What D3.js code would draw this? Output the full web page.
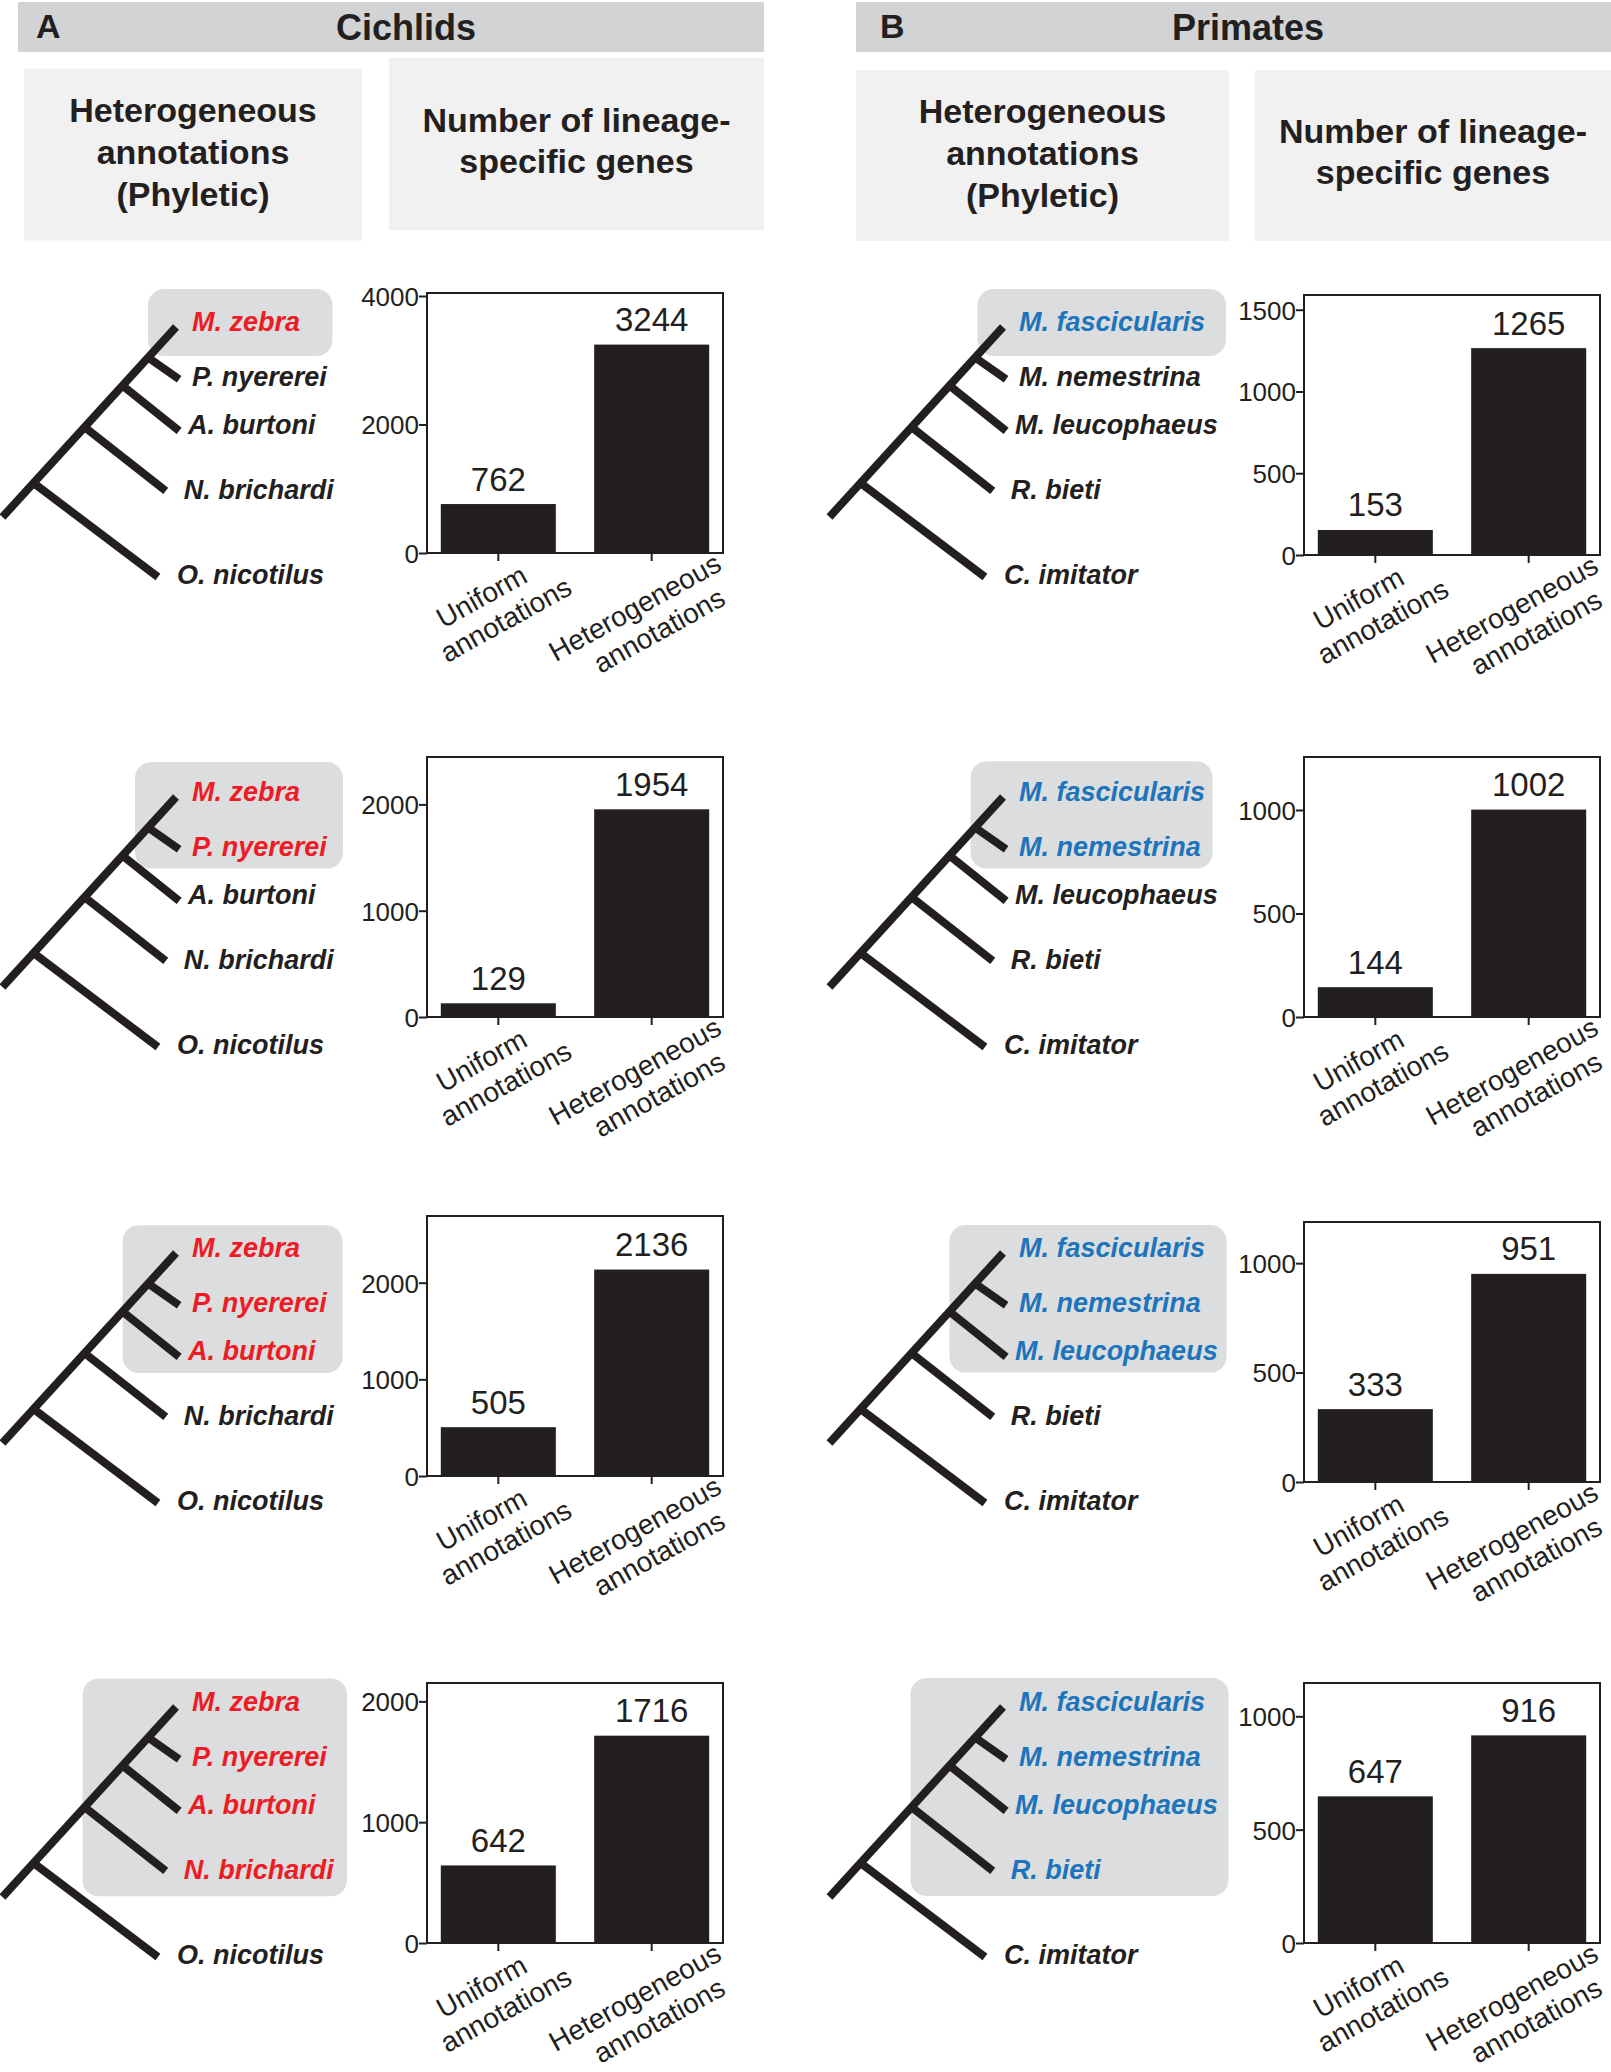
<!DOCTYPE html>
<html><head><meta charset="utf-8">
<script src="https://cdn.jsdelivr.net/npm/d3@7"></script>
<style>
body{margin:0;background:#fff;}
svg{display:block;font-family:"Liberation Sans",Arial,Helvetica,sans-serif;}
</style></head><body>
<svg id="c" width="1611" height="2072"></svg>
<script>
// ---------------- data ----------------
const panelLetters = ["A", "B"];
const panelTitles = ["Cichlids", "Primates"];
const subheaderLeft = ["Heterogeneous", "annotations", "(Phyletic)"];
const subheaderRight = ["Number of lineage-", "specific genes"];
const categories = ["Uniform annotations", "Heterogeneous annotations"];
const categoryLines = [["Uniform", "annotations"], ["Heterogeneous", "annotations"]];

const cichlidSpecies = ["M. zebra", "P. nyererei", "A. burtoni", "N. brichardi", "O. nicotilus"];
const primateSpecies = ["M. fascicularis", "M. nemestrina", "M. leucophaeus", "R. bieti", "C. imitator"];
const highlightedCount = [1, 2, 3, 4];

const cichlidUniform = [762, 129, 505, 642];
const cichlidHetero = [3244, 1954, 2136, 1716];
const primateUniform = [153, 144, 333, 647];
const primateHetero = [1265, 1002, 951, 916];

const cichlidYMax = [4047, 2446, 2690, 2152];
const primateYMax = [1590, 1256, 1188, 1147];
const cichlidTicks = [[0, 2000, 4000], [0, 1000, 2000], [0, 1000, 2000], [0, 1000, 2000]];
const primateTicks = [[0, 500, 1000, 1500], [0, 500, 1000], [0, 500, 1000], [0, 500, 1000]];

// ladder-tree shape: where each leaf joins the backbone (0 = root, 1 = top),
// and where each leaf tip lies (depth, height below the top tip, in backbone units)
const attachDepth = [1.0, 0.839, 0.692, 0.473, 0.179];
const tipDepth = [1.0, 1.018, 1.018, 0.941, 0.896];
const tipHeight = [0, 0.275, 0.547, 0.863, 1.316];

// ---------------- layout / style ----------------
const INK = "#231f20";
const RED = "#ed1c24", BLUE = "#1c75bc";
const svg = d3.select("#c");
const labelDx = [16, 13, 9, 18, 19];
const labelDy = [4, 7, 3, 8, 7];

const panels = [
  {
    letter: panelLetters[0], title: panelTitles[0], species: cichlidSpecies,
    uni: cichlidUniform, het: cichlidHetero, ymax: cichlidYMax, ticks: cichlidTicks,
    hiColor: RED,
    bar: {x0: 18, w: 746, letterX: 36, titleX: 406},
    subL: {x: 24, y: 68.5, w: 338, h: 172, lines: [122, 164, 206]},
    subR: {x: 389, y: 58, w: 375, h: 172, lines: [132, 173]},
    rootX: 2.5,
    frameX: [427, 723], frameTop: [293, 757, 1216, 1683],
    boxes: [[145.5, -38, 330, 29], [132.5, -35, 340.5, 71.6], [120, -27.7, 340, 120], [80, -28.4, 344.5, 189.3]]
  },
  {
    letter: panelLetters[1], title: panelTitles[1], species: primateSpecies,
    uni: primateUniform, het: primateHetero, ymax: primateYMax, ticks: primateTicks,
    hiColor: BLUE,
    bar: {x0: 856, w: 755, letterX: 880, titleX: 1248},
    subL: {x: 856, y: 70, w: 373, h: 171, lines: [123, 165, 207]},
    subR: {x: 1255, y: 70, w: 356, h: 171, lines: [143, 184]},
    rootX: 829.5,
    frameX: [1304, 1600], frameTop: [295, 757, 1222, 1683],
    boxes: [[148, -38, 396.5, 29], [141, -35.7, 383, 71.6], [120, -28, 397, 119.6], [81, -29, 399, 189]]
  }
];
const treeTipY = [327, 797, 1253, 1707];
const FRAME_H = 260;

panels.forEach(p => {
  // header bar
  svg.append("rect").attr("x", p.bar.x0).attr("y", 2).attr("width", p.bar.w).attr("height", 50)
    .attr("fill", "#d1d3d4");
  svg.append("text").attr("x", p.bar.letterX).attr("y", 38).text(p.letter)
    .attr("font-size", 34).attr("font-weight", "bold").attr("fill", INK);
  svg.append("text").attr("x", p.bar.titleX).attr("y", 40).text(p.title)
    .attr("text-anchor", "middle").attr("font-size", 36).attr("font-weight", "bold").attr("fill", INK);

  // subheaders
  [[p.subL, subheaderLeft], [p.subR, subheaderRight]].forEach(([b, lines]) => {
    svg.append("rect").attr("x", b.x).attr("y", b.y).attr("width", b.w).attr("height", b.h)
      .attr("fill", "#f1f1f2");
    lines.forEach((t, i) => {
      svg.append("text").attr("x", b.x + b.w / 2).attr("y", b.lines[i]).text(t)
        .attr("text-anchor", "middle").attr("font-size", 34).attr("font-weight", "bold").attr("fill", INK);
    });
  });

  highlightedCount.forEach((nHi, r) => {
    // ---------- tree ----------
    const g = svg.append("g");
    const tipY = treeTipY[r];
    const tx = d3.scaleLinear().domain([0, 1]).range([p.rootX, p.rootX + 173.5]);
    const ty = d3.scaleLinear().domain([0, 1]).range([tipY, tipY + 190]);
    const bx = p.boxes[r];
    g.append("rect")
      .attr("x", p.rootX + bx[0]).attr("y", tipY + bx[1])
      .attr("width", bx[2] - bx[0]).attr("height", bx[3] - bx[1])
      .attr("rx", 16).attr("ry", 16).attr("fill", "#dcddde");
    // backbone
    g.append("line")
      .attr("x1", tx(0)).attr("y1", ty(1)).attr("x2", tx(attachDepth[0])).attr("y2", ty(1 - attachDepth[0]))
      .attr("stroke", INK).attr("stroke-width", 8);
    // side branches
    g.selectAll("line.br").data(p.species.slice(1)).join("line").attr("class", "br")
      .attr("x1", (d, i) => tx(attachDepth[i + 1])).attr("y1", (d, i) => ty(1 - attachDepth[i + 1]))
      .attr("x2", (d, i) => tx(tipDepth[i + 1])).attr("y2", (d, i) => ty(tipHeight[i + 1]))
      .attr("stroke", INK).attr("stroke-width", 8);
    // leaf labels
    g.selectAll("text.sp").data(p.species).join("text").attr("class", "sp")
      .attr("x", (d, i) => tx(tipDepth[i]) + labelDx[i])
      .attr("y", (d, i) => ty(tipHeight[i]) + labelDy[i])
      .attr("font-size", 27).attr("font-weight", "bold").attr("font-style", "italic")
      .attr("fill", (d, i) => i < nHi ? p.hiColor : INK)
      .text(d => d);

    // ---------- bar chart ----------
    const top = p.frameTop[r], bottom = top + FRAME_H;
    const x = d3.scaleBand().domain(categories).range(p.frameX).paddingInner(0.25).paddingOuter(0.09);
    const y = d3.scaleLinear().domain([0, p.ymax[r]]).range([bottom, top]);
    const vals = [p.uni[r], p.het[r]];
    const cg = svg.append("g");
    cg.selectAll("rect.bar").data(categories).join("rect").attr("class", "bar")
      .attr("x", d => x(d)).attr("width", x.bandwidth())
      .attr("y", (d, i) => y(vals[i])).attr("height", (d, i) => bottom - y(vals[i]))
      .attr("fill", INK);
    cg.selectAll("text.val").data(categories).join("text").attr("class", "val")
      .attr("x", d => x(d) + x.bandwidth() / 2)
      .attr("y", (d, i) => y(vals[i]) - 13.5)
      .attr("text-anchor", "middle").attr("font-size", 33).attr("fill", INK)
      .text((d, i) => vals[i]);
    // frame
    cg.append("rect").attr("x", p.frameX[0]).attr("y", top)
      .attr("width", p.frameX[1] - p.frameX[0]).attr("height", FRAME_H)
      .attr("fill", "none").attr("stroke", INK).attr("stroke-width", 2);
    // y axis
    const ya = cg.append("g").attr("transform", `translate(${p.frameX[0]},0)`)
      .call(d3.axisLeft(y).tickValues(p.ticks[r]).tickFormat(d3.format("d")).tickSize(8).tickSizeOuter(0));
    ya.attr("font-size", null).attr("font-family", null);
    ya.select(".domain").remove();
    ya.selectAll(".tick line").attr("stroke", INK).attr("stroke-width", 2);
    ya.selectAll(".tick text").attr("font-size", 26).attr("fill", INK).attr("x", -8)
      .attr("dy", "0.36em");
    // x axis
    const xa = cg.append("g").attr("transform", `translate(0,${bottom})`)
      .call(d3.axisBottom(x).tickSize(8).tickSizeOuter(0).tickFormat(""));
    xa.select(".domain").remove();
    xa.selectAll(".tick line").attr("stroke", INK).attr("stroke-width", 2);
    const lblOff = [63.5, 74.3];
    categories.forEach((c, i) => {
      const lg = cg.append("g")
        .attr("transform", `translate(${x(c) + x.bandwidth() / 2},${bottom + lblOff[i]}) rotate(-29)`);
      categoryLines[i].forEach((t, k) => {
        lg.append("text").attr("x", k === 0 ? -5 : 5).attr("y", k === 0 ? -16 : 16)
          .attr("text-anchor", "middle").attr("font-size", 28)
          .attr("fill", INK).text(t);
      });
    });
  });
});
</script>
</body></html>
